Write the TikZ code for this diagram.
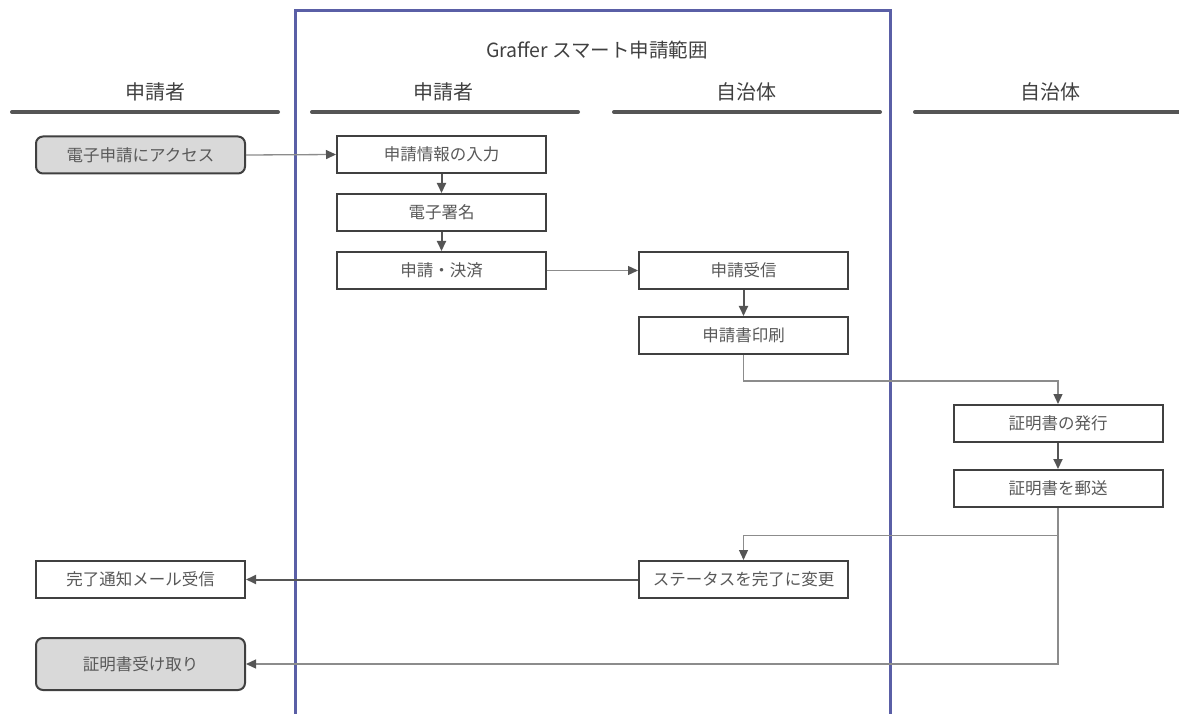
\documentclass[tikz,border=0pt]{standalone}
\usepackage{fontspec}
\setmainfont{Noto Sans CJK JP}
\usetikzlibrary{arrows.meta}
\definecolor{frameblue}{HTML}{5A5FA6}
\definecolor{boxline}{HTML}{404040}
\definecolor{boxtext}{HTML}{595959}
\definecolor{headtext}{HTML}{404040}
\definecolor{lanegray}{HTML}{555555}
\definecolor{thinline}{HTML}{8C8C8C}
\definecolor{thickline}{HTML}{555555}
\definecolor{boxfill}{HTML}{D9D9D9}
\tikzset{
  stepbox/.style={draw=boxline, line width=2pt, fill=white, minimum width=209pt, minimum height=37pt, inner sep=0pt, text=boxtext, font=\fontsize{16.5}{19}\selectfont},
  termbox/.style={stepbox, fill=boxfill, rounded corners=7pt},
  headtxt/.style={text=headtext, font=\fontsize{20}{24}\selectfont, inner sep=0pt},
  laneline/.style={draw=lanegray, line width=4pt, line cap=round},
  thinarrow/.style={draw=thinline, line width=1.3pt, -{Triangle[length=10pt,width=9pt,color=thickline]}},
  thickarrow/.style={draw=thickline, line width=2pt, -{Triangle[length=10pt,width=9pt]}},
  bluefr/.style={draw=frameblue, line width=3pt}
}
\begin{document}
\begin{tikzpicture}[x=1pt,y=-1pt]
\useasboundingbox (0,0) rectangle (1179,714);
% frame
\draw[bluefr] (295,716) -- (295,11) -- (890,11) -- (890,716);
\node[headtxt, font=\fontsize{19.5}{23}\selectfont] (title) at (597,50) {Graffer スマート申請範囲};
% lane headers
\node[headtxt] (h1) at (155,92) {申請者};
\node[headtxt] (h2) at (443,92) {申請者};
\node[headtxt] (h3) at (746,92) {自治体};
\node[headtxt] (h4) at (1050,92) {自治体};
\draw[laneline] (12,112) -- (278,112);
\draw[laneline] (312,112) -- (578,112);
\draw[laneline] (614,112) -- (880,112);
\draw[laneline] (915,112) -- (1182,112);
% nodes
\node[termbox] (acc) at (140.5,155) {電子申請にアクセス};
\node[stepbox] (inp) at (441.5,154.5) {申請情報の入力};
\node[stepbox] (sig) at (441.5,212.5) {電子署名};
\node[stepbox] (pay) at (441.5,270.5) {申請・決済};
\node[stepbox] (rcv) at (743.5,270.5) {申請受信};
\node[stepbox] (prt) at (743.5,335.5) {申請書印刷};
\node[stepbox] (iss) at (1058,423.5) {証明書の発行};
\node[stepbox] (mail) at (1058,488.5) {証明書を郵送};
\node[stepbox] (stat) at (743.5,579.5) {ステータスを完了に変更};
\node[stepbox] (notif) at (140.5,579.5) {完了通知メール受信};
\node[termbox, minimum height=52pt] (recv) at (140.5,664) {証明書受け取り};
% connectors
\draw[thinarrow] (acc.east) -- (inp.west);
\draw[thickarrow] (inp) -- (sig);
\draw[thickarrow] (sig) -- (pay);
\draw[thinarrow] (pay) -- (rcv);
\draw[thickarrow] (rcv) -- (prt);
\draw[thinarrow] (prt.south) -- ++(0,26) -| (iss.north);
\draw[thickarrow] (iss) -- (mail);
\draw[thinarrow] (mail.south) -- ++(0,27.5) -| (stat.north);
\draw[thickarrow] (stat.west) -- (notif.east);
\draw[thinarrow] (mail.south) |- (recv.east);
\end{tikzpicture}
\end{document}
